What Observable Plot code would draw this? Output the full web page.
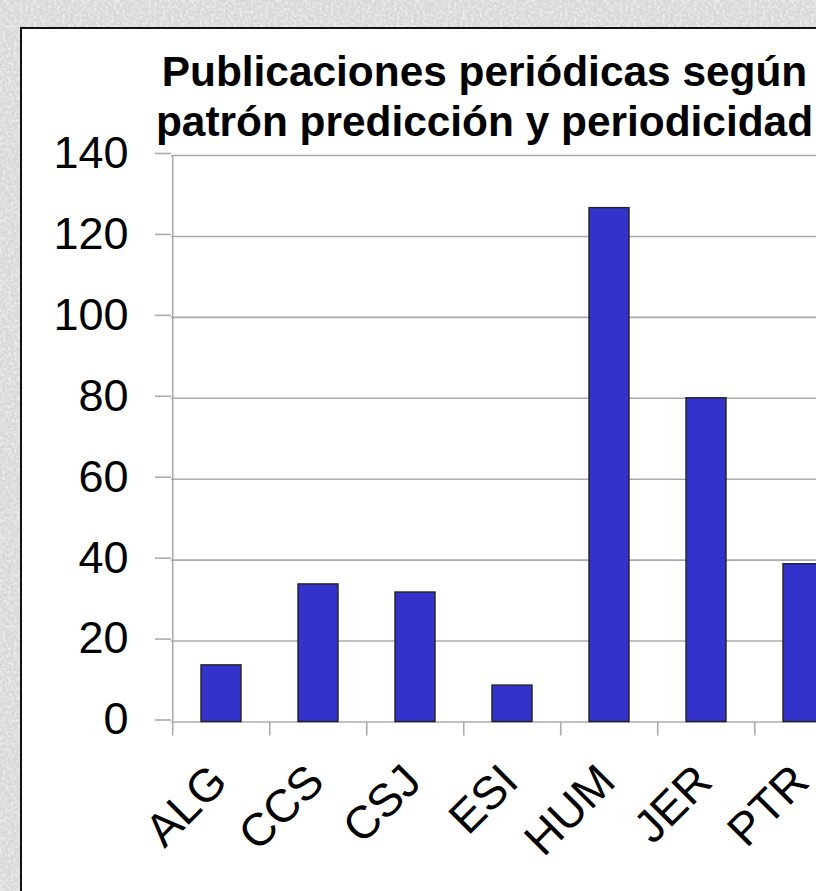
<!DOCTYPE html>
<html>
<head>
<meta charset="utf-8">
<script src="https://cdn.jsdelivr.net/npm/d3@7"></script>
<script src="https://cdn.jsdelivr.net/npm/@observablehq/plot@0.6"></script>
<style>
  html, body { margin: 0; padding: 0; width: 816px; height: 891px; overflow: hidden; }
  body {
    background-color: #d8d8d8;
    background-image: url("data:image/svg+xml;utf8,<svg xmlns='http://www.w3.org/2000/svg' width='300' height='300'><filter id='n'><feTurbulence type='fractalNoise' baseFrequency='0.35' numOctaves='3' seed='4'/><feColorMatrix values='0 0 0 0 1  0 0 0 0 1  0 0 0 0 1  0 0 0 1.3 -0.5'/></filter><rect width='300' height='300' filter='url(%23n)'/></svg>");
    position: relative;
    font-family: "Liberation Sans", Arial, sans-serif;
  }
  #panel {
    position: absolute; left: 20px; top: 27px; width: 1000px; height: 1000px;
    background: #fff; border: 2px solid #111; box-sizing: border-box;
  }
  #title {
    position: absolute; left: 0; top: 47px; width: 969px; text-align: center;
    font: bold 42.4px/50px "Liberation Sans", Arial, sans-serif; color: #000;
    white-space: nowrap;
  }
  #chart { position: absolute; left: 0; top: 0; width: 863.5px; height: 891px; }
  #chart svg { overflow: visible; background: transparent; max-width: none !important; width: 863.5px !important; height: 891px !important; }
</style>
</head>
<body>
<div id="panel"></div>
<div id="chart"></div>
<div id="title">Publicaciones periódicas según<br>patrón predicción y periodicidad</div>
<script>
// ---- data ----
const categories = ["ALG", "CCS", "CSJ", "ESI", "HUM", "JER", "PTR"];
const values = [14, 34, 32, 9, 127, 80, 39];
const yTicks = [0, 20, 40, 60, 80, 100, 120, 140];

const data = categories.map((c, i) => ({cat: c, value: values[i]}));

// ---- layout ----
const width = 863.5, height = 891;
const marginLeft = 171, marginRight = 10, marginTop = 155, marginBottom = 169.5;
const step = (width - marginLeft - marginRight) / categories.length;
const gray = "#ababab";

const chart = Plot.plot({
  width, height, marginLeft, marginRight, marginTop, marginBottom,
  style: {background: "transparent", fontFamily: "'Liberation Sans', Arial, sans-serif", overflow: "visible", maxWidth: "none"},
  x: {domain: categories, paddingInner: 0.59, paddingOuter: 0.295, axis: null},
  y: {domain: [0, 140], axis: null},
  marks: [
    Plot.gridY(yTicks, {stroke: gray, strokeOpacity: 1, strokeWidth: 1.6}),
    Plot.ruleX([categories[0]], {dx: -step / 2, stroke: gray, strokeWidth: 1.6}),
    Plot.axisY(yTicks, {tickSize: 16, tickPadding: 27, fontSize: 45, stroke: gray, strokeWidth: 1.6, fill: "#000", tickFormat: d => d, dy: -2, label: null}),
    Plot.axisX(categories, {tickSize: 14, dx: -step / 2, stroke: gray, strokeWidth: 1.6, fill: "none", label: null}),
    Plot.barY(data, {x: "cat", y: "value", fill: "#3333cc", stroke: "#222", strokeWidth: 1.4, insetLeft: 0, insetRight: 0}),
    Plot.text(categories, {x: d => d, y: 0, text: d => d, rotate: -45, textAnchor: "end", lineAnchor: "bottom",
      dx: 8, dy: 62, fontSize: 46, fill: "#000"})
  ]
});
document.getElementById("chart").appendChild(chart);
</script>
</body>
</html>
